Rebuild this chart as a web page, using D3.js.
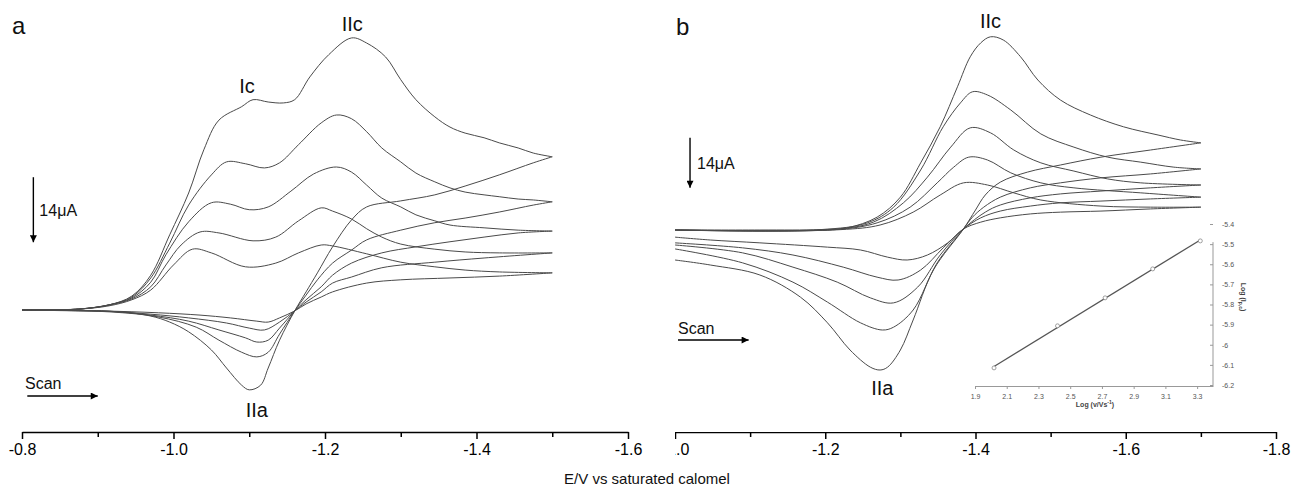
<!DOCTYPE html>
<html>
<head>
<meta charset="utf-8">
<script src="https://cdn.jsdelivr.net/npm/d3@7"></script>
<style>
body { margin: 0; background: #fff; }
text { font-family: "Liberation Sans", Arial, sans-serif; }
</style>
</head>
<body>
<div id="chart"></div>
<script>
// ---- panel a : potential (V) vs current (uA), 5 scan rates ----
var aTicks = [-0.8, -1.0, -1.2, -1.4, -1.6];
var aMinor = [-0.9, -1.1, -1.3, -1.5];

var aForward = [
  [[-0.80,0],[-0.875,0.2],[-0.915,1.1],[-0.945,3.0],[-0.97,7.5],[-0.995,16.2],[-1.02,25.2],[-1.04,34.5],[-1.06,40.9],[-1.09,43.8],[-1.105,45.3],[-1.125,44.8],[-1.145,44.6],[-1.16,45.3],[-1.18,50.2],[-1.205,55.0],[-1.235,58.6],[-1.255,57.5],[-1.28,54.5],[-1.30,49.6],[-1.32,45.3],[-1.345,41.6],[-1.365,39.4],[-1.385,38.1],[-1.41,37.1],[-1.43,36.0],[-1.455,34.9],[-1.475,33.8],[-1.50,33.0]],
  [[-0.80,0],[-0.875,0.2],[-0.915,1.1],[-0.945,2.8],[-0.97,6.9],[-0.995,14.4],[-1.02,22.6],[-1.05,29.1],[-1.07,31.9],[-1.095,31.5],[-1.12,30.6],[-1.14,31.7],[-1.165,35.6],[-1.195,40.3],[-1.215,42.0],[-1.235,41.2],[-1.255,38.4],[-1.275,34.9],[-1.30,31.9],[-1.32,29.5],[-1.345,27.6],[-1.365,26.3],[-1.385,25.4],[-1.41,24.8],[-1.43,24.4],[-1.455,23.9],[-1.475,23.7],[-1.50,23.3]],
  [[-0.80,0],[-0.875,0.2],[-0.915,1.1],[-0.945,2.6],[-0.97,6.0],[-0.99,11.9],[-1.02,19.0],[-1.05,23.1],[-1.075,22.8],[-1.10,21.6],[-1.125,22.2],[-1.155,25.6],[-1.185,29.3],[-1.215,30.8],[-1.235,29.7],[-1.255,26.9],[-1.275,24.1],[-1.30,22.2],[-1.32,20.5],[-1.345,19.2],[-1.365,18.3],[-1.41,17.7],[-1.455,17.2],[-1.50,17.0]],
  [[-0.80,0],[-0.875,0.2],[-0.915,1.1],[-0.945,2.4],[-0.97,5.0],[-0.99,9.7],[-1.01,14.0],[-1.035,16.8],[-1.06,16.6],[-1.105,14.9],[-1.135,15.7],[-1.165,19.2],[-1.195,22.0],[-1.21,21.3],[-1.235,19.6],[-1.255,17.5],[-1.275,15.7],[-1.30,14.2],[-1.345,13.1],[-1.385,12.5],[-1.43,12.3],[-1.50,12.3]],
  [[-0.80,0],[-0.875,0.2],[-0.915,0.9],[-0.945,2.2],[-0.97,4.3],[-1.00,9.7],[-1.025,13.1],[-1.05,12.3],[-1.095,9.3],[-1.135,10.1],[-1.165,12.3],[-1.195,14.0],[-1.21,13.8],[-1.255,12.1],[-1.30,10.3],[-1.345,9.3],[-1.385,8.6],[-1.43,8.2],[-1.50,8.0]]
];

var aReverse = [
  [[-1.50,33.0],[-1.475,31.7],[-1.43,29.1],[-1.385,26.7],[-1.345,24.8],[-1.30,23.5],[-1.255,22.2],[-1.235,19.4],[-1.21,13.6],[-1.19,8.0],[-1.175,3.9],[-1.16,-0.2],[-1.14,-6.5],[-1.125,-12.5],[-1.115,-16.2],[-1.10,-17.2],[-1.09,-16.2],[-1.07,-12.5],[-1.05,-8.6],[-1.02,-4.7],[-0.995,-2.6],[-0.97,-1.3],[-0.93,-0.4],[-0.875,-0.2],[-0.80,0]],
  [[-1.50,23.3],[-1.475,22.6],[-1.43,21.1],[-1.385,19.8],[-1.345,18.8],[-1.30,17.2],[-1.255,15.1],[-1.235,12.9],[-1.21,10.1],[-1.19,6.5],[-1.175,3.2],[-1.16,-0.2],[-1.14,-5.2],[-1.125,-9.1],[-1.11,-10.1],[-1.09,-9.1],[-1.06,-6.5],[-1.03,-3.7],[-0.98,-1.5],[-0.915,-0.4],[-0.80,0]],
  [[-1.50,17.0],[-1.455,16.6],[-1.41,15.7],[-1.365,14.7],[-1.32,13.6],[-1.275,12.3],[-1.235,10.1],[-1.21,7.5],[-1.195,5.0],[-1.175,2.2],[-1.16,-0.2],[-1.14,-3.9],[-1.125,-6.5],[-1.11,-6.9],[-1.095,-6.0],[-1.06,-4.3],[-1.02,-2.4],[-0.97,-1.1],[-0.905,-0.2],[-0.80,0]],
  [[-1.50,12.3],[-1.41,11.2],[-1.345,10.3],[-1.275,9.1],[-1.235,7.1],[-1.21,5.8],[-1.195,3.9],[-1.175,1.7],[-1.16,-0.2],[-1.14,-2.6],[-1.12,-4.3],[-1.10,-3.9],[-1.07,-2.8],[-1.02,-1.7],[-0.97,-0.9],[-0.905,-0.2],[-0.80,0]],
  [[-1.50,8.0],[-1.43,7.3],[-1.365,6.9],[-1.30,6.5],[-1.255,5.8],[-1.21,3.9],[-1.195,2.8],[-1.175,1.3],[-1.16,-0.2],[-1.14,-1.7],[-1.125,-2.6],[-1.11,-2.4],[-1.075,-1.7],[-1.035,-1.1],[-0.98,-0.6],[-0.905,-0.2],[-0.80,0]]
];

// ---- panel b ----
var bTicks = [-1.0, -1.2, -1.4, -1.6, -1.8];
var bMinor = [-1.1, -1.3, -1.5, -1.7];

var bForward = [
  [[-1.00,0],[-1.113,0],[-1.193,0.1],[-1.229,0.6],[-1.269,3.6],[-1.30,9.2],[-1.327,18.8],[-1.353,28.9],[-1.376,40.1],[-1.393,48.5],[-1.407,52.4],[-1.42,54.1],[-1.437,53.2],[-1.46,48.5],[-1.483,42.0],[-1.513,36.4],[-1.553,32.2],[-1.597,28.9],[-1.643,26.6],[-1.673,25.2],[-1.70,24.4]],
  [[-1.00,0],[-1.193,0.1],[-1.256,2.0],[-1.291,6.4],[-1.327,16.8],[-1.357,28.9],[-1.38,35.6],[-1.396,38.7],[-1.416,37.8],[-1.447,33.6],[-1.487,26.9],[-1.531,23.2],[-1.576,20.4],[-1.62,19.0],[-1.664,17.6],[-1.70,17.1]],
  [[-1.00,0],[-1.207,0.1],[-1.264,2.2],[-1.304,7.6],[-1.336,14.8],[-1.367,23.2],[-1.393,28.6],[-1.42,27.2],[-1.451,22.4],[-1.487,18.8],[-1.531,16.5],[-1.576,14.3],[-1.62,13.2],[-1.70,12.6]],
  [[-1.00,0],[-1.213,0.1],[-1.269,2.0],[-1.313,6.4],[-1.349,13.2],[-1.371,17.6],[-1.391,20.4],[-1.416,19.6],[-1.447,16.0],[-1.487,13.2],[-1.531,11.8],[-1.62,10.4],[-1.70,9.2]],
  [[-1.00,0],[-1.22,0.1],[-1.273,1.4],[-1.317,5.0],[-1.353,9.8],[-1.384,13.2],[-1.416,12.6],[-1.451,10.4],[-1.487,8.4],[-1.567,6.7],[-1.633,6.4],[-1.70,6.4]]
];

var bReverse = [
  [[-1.70,24.4],[-1.633,22.4],[-1.567,20.4],[-1.513,18.2],[-1.469,16.2],[-1.433,13.4],[-1.413,9.8],[-1.40,5.6],[-1.384,0.3],[-1.344,-11.2],[-1.317,-25.2],[-1.30,-33.6],[-1.283,-38.4],[-1.273,-39.2],[-1.26,-38.4],[-1.233,-33.6],[-1.203,-26.0],[-1.167,-18.8],[-1.113,-12.6],[-1.047,-9.8],[-1.00,-8.4]],
  [[-1.70,17.1],[-1.633,15.7],[-1.567,14.6],[-1.513,13.2],[-1.473,11.8],[-1.433,9.2],[-1.411,6.4],[-1.396,3.6],[-1.384,0.3],[-1.349,-9.2],[-1.317,-22.4],[-1.291,-27.2],[-1.276,-28.0],[-1.247,-26.0],[-1.203,-20.2],[-1.157,-14.6],[-1.09,-9.2],[-1.00,-5.3]],
  [[-1.70,12.6],[-1.633,11.8],[-1.567,10.9],[-1.513,10.1],[-1.473,9.0],[-1.433,7.0],[-1.413,5.0],[-1.384,0.3],[-1.353,-7.0],[-1.323,-16.0],[-1.291,-20.4],[-1.26,-19.0],[-1.216,-14.6],[-1.157,-10.4],[-1.09,-6.4],[-1.00,-4.2]],
  [[-1.70,9.2],[-1.633,8.7],[-1.567,8.1],[-1.513,7.6],[-1.473,6.7],[-1.433,5.3],[-1.407,3.4],[-1.384,0.3],[-1.357,-5.0],[-1.327,-11.2],[-1.297,-14.0],[-1.269,-13.2],[-1.224,-10.4],[-1.157,-7.0],[-1.09,-5.0],[-1.00,-3.6]],
  [[-1.70,6.4],[-1.633,5.9],[-1.567,5.3],[-1.513,5.0],[-1.473,4.5],[-1.433,3.4],[-1.407,2.2],[-1.384,0.3],[-1.363,-3.6],[-1.336,-7.0],[-1.309,-8.4],[-1.283,-7.6],[-1.247,-5.6],[-1.203,-4.8],[-1.113,-3.6],[-1.047,-2.8],[-1.00,-2.0]]
];

// ---- inset : log(Ip,c) vs log(v) ----
var insetLogV = [2.02, 2.42, 2.72, 3.02, 3.32];
var insetLogI = [-6.115, -5.906, -5.767, -5.623, -5.484];
var insetXTicks = [1.9, 2.1, 2.3, 2.5, 2.7, 2.9, 3.1, 3.3];
var insetYTicks = [-5.4, -5.5, -5.6, -5.7, -5.8, -5.9, -6, -6.1, -6.2];

var W = 1293, H = 489;
var svg = d3.select("#chart").append("svg")
  .attr("width", W).attr("height", H);

var xA = d3.scaleLinear().domain([-0.8, -1.6]).range([22, 628]);
var yA = d3.scaleLinear().domain([0, 14]).range([310, 245]);
var xB = d3.scaleLinear().domain([-1.0, -1.8]).range([675, 1276]);
var yB = d3.scaleLinear().domain([0, 14]).range([230, 180]);

var fmt = function(d){ return d.toFixed(1); };
var axisY = 432;

svg.append("defs").append("clipPath").attr("id", "clipB")
  .append("rect").attr("x", 675).attr("y", 0).attr("width", 640).attr("height", H);

function drawAxis(x, ticks, minor, clip) {
  var g = svg.append("g").attr("transform", "translate(0," + axisY + ")");
  if (clip) g.attr("clip-path", "url(#clipB)");
  g.call(d3.axisBottom(x).tickValues(ticks).tickFormat(fmt).tickSize(7).tickSizeOuter(0).tickPadding(5));
  g.append("g").call(d3.axisBottom(x).tickValues(minor).tickFormat("").tickSize(5).tickSizeOuter(0))
    .select(".domain").remove();
  g.selectAll("path,line").attr("stroke", "#000").attr("stroke-width", 1.5);
  g.selectAll("text").attr("fill", "#000").style("font-size", "16px")
    .style("font-family", "'Liberation Sans', Arial, sans-serif");
}
drawAxis(xA, aTicks, aMinor, false);
drawAxis(xB, bTicks, bMinor, true);

function drawCurves(list, x, y) {
  var line = d3.line().x(function(d){ return x(d[0]); }).y(function(d){ return y(d[1]); })
    .curve(d3.curveCatmullRom.alpha(0.5));
  svg.append("g").selectAll("path").data(list).enter().append("path")
    .attr("d", line).attr("fill", "none")
    .attr("stroke", "#4a4a4a").attr("stroke-width", 1);
}
drawCurves(aForward, xA, yA);
drawCurves(aReverse, xA, yA);
drawCurves(bForward, xB, yB);
drawCurves(bReverse, xB, yB);

// arrow markers
svg.select("defs").append("marker").attr("id", "head")
  .attr("viewBox", "0 0 10 10").attr("refX", 10).attr("refY", 5)
  .attr("markerWidth", 10).attr("markerHeight", 7).attr("markerUnits", "userSpaceOnUse")
  .attr("orient", "auto")
  .append("path").attr("d", "M0,0L10,5L0,10z").attr("fill", "#000");

function arrow(x1, y1, x2, y2) {
  svg.append("line").attr("x1", x1).attr("y1", y1).attr("x2", x2).attr("y2", y2)
    .attr("stroke", "#000").attr("stroke-width", 1.4).attr("marker-end", "url(#head)");
}
function label(t, x, y, size, anchor) {
  return svg.append("text").attr("x", x).attr("y", y).attr("text-anchor", anchor || "start")
    .style("font-size", size + "px").attr("fill", "#111").text(t);
}

// 14 uA scale bars
arrow(xA(-0.815), yA(28.6), xA(-0.815), yA(14.6));
label("14\u03bcA", xA(-0.815) + 6, yA(21.6) + 6, 16);
arrow(xB(-1.02), yB(25.8), xB(-1.02), yB(11.8));
label("14\u03bcA", xB(-1.02) + 7, yB(18.8) + 6, 16);

// scan direction
arrow(xA(-0.807), 396, xA(-0.900), 396);
label("Scan", xA(-0.804), 389, 16);
arrow(xB(-1.004), 340, xB(-1.098), 340);
label("Scan", xB(-1.004), 334, 16);

// peak labels
var peakA = [{t:"Ic", E:-1.097, I:46.7}, {t:"IIc", E:-1.236, I:60.1}, {t:"IIa", E:-1.110, I:-23.0}];
var peakB = [{t:"IIc", E:-1.42, I:56.6}, {t:"IIa", E:-1.276, I:-46.2}];
peakA.forEach(function(p){ label(p.t, xA(p.E), yA(p.I), 20, "middle"); });
peakB.forEach(function(p){ label(p.t, xB(p.E), yB(p.I), 20, "middle"); });

label("a", 12, 34, 24);
label("b", 676, 35, 24);
label("E/V vs saturated calomel", 647, 484, 15, "middle");

// ---- inset ----
var xI = d3.scaleLinear().domain([1.9, 3.4]).range([975, 1213]);
var yI = d3.scaleLinear().domain([-6.2, -5.4]).range([385, 224]);
var gI = svg.append("g");
var gx = gI.append("g").attr("transform", "translate(0,386)")
  .call(d3.axisBottom(xI).tickValues(insetXTicks).tickFormat(fmt).tickSize(3).tickSizeOuter(0).tickPadding(5));
var gy = gI.append("g").attr("transform", "translate(1213,0)")
  .call(d3.axisRight(yI).tickValues(insetYTicks).tickFormat(function(d){ return String(d); })
    .tickSize(-3).tickPadding(9));
gy.select(".domain").remove();
gy.append("line").attr("x1", 0).attr("x2", 0).attr("y1", yI(-5.5) - 2).attr("y2", 386);
gI.selectAll("path,line").attr("stroke", "#999").attr("stroke-width", 1);
gI.selectAll("text").attr("fill", "#555").style("font-size", "7px")
  .style("font-family", "'Liberation Sans', Arial, sans-serif");

// least squares fit through the points
var mx = d3.mean(insetLogV), my = d3.mean(insetLogI);
var slope = d3.sum(insetLogV, function(v, i){ return (v - mx) * (insetLogI[i] - my); }) /
            d3.sum(insetLogV, function(v){ return (v - mx) * (v - mx); });
var v0 = d3.min(insetLogV), v1 = d3.max(insetLogV);
gI.append("line")
  .attr("x1", xI(v0)).attr("y1", yI(my + slope * (v0 - mx)))
  .attr("x2", xI(v1)).attr("y2", yI(my + slope * (v1 - mx)))
  .attr("stroke", "#555").attr("stroke-width", 1.3);
gI.selectAll("circle").data(insetLogV).enter().append("circle")
  .attr("cx", function(d){ return xI(d); })
  .attr("cy", function(d, i){ return yI(insetLogI[i]); })
  .attr("r", 2).attr("fill", "#fff").attr("stroke", "#888").attr("stroke-width", 0.8);

gI.append("text").attr("x", 1095).attr("y", 407).attr("text-anchor", "middle")
  .style("font-size", "7px").style("font-weight", "bold").attr("fill", "#444")
  .html("Log (v/Vs<tspan dy='-3' font-size='5px'>-1</tspan><tspan dy='3'>)</tspan>");
gI.append("text").attr("transform", "translate(1241,297) rotate(90)").attr("text-anchor", "middle")
  .style("font-size", "7px").style("font-weight", "bold").attr("fill", "#444")
  .html("Log (I<tspan dy='2' font-size='5px'>p,c</tspan><tspan dy='-2'>)</tspan>");
</script>
</body>
</html>
